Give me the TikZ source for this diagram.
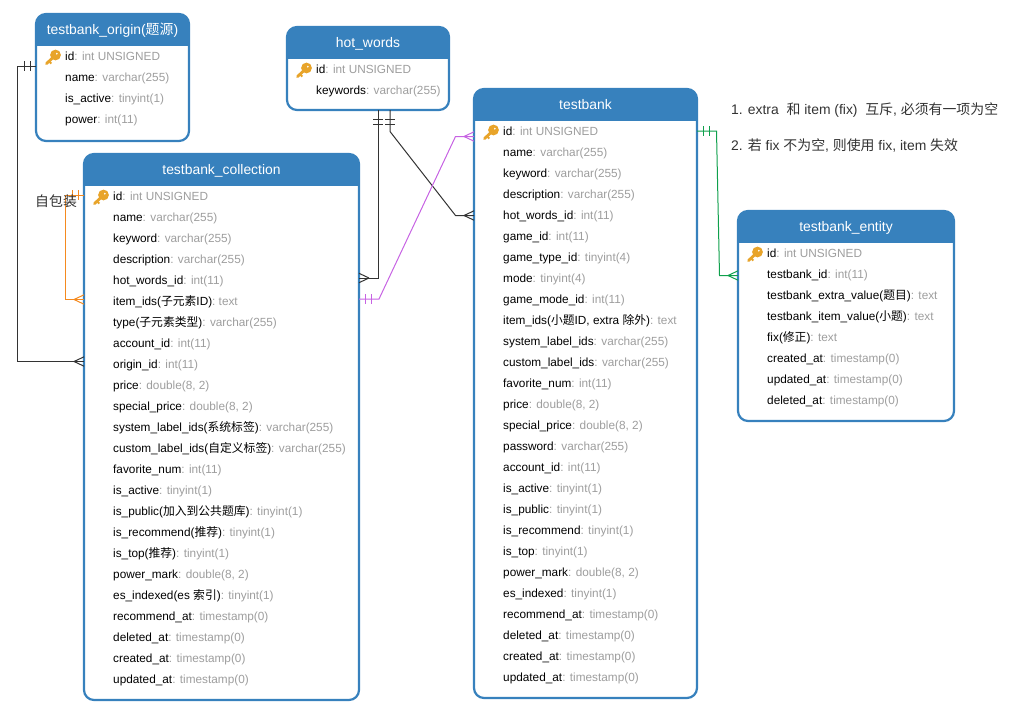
\documentclass[tikz,border=0pt]{standalone}
\usepackage{fontspec}
\setmainfont{Liberation Sans}
\newfontfamily\cjk{Noto Sans CJK SC}
\newcommand\zh[1]{{\cjk #1}}
\usetikzlibrary{calc}
\definecolor{hdrblue}{HTML}{3781BD}
\definecolor{typegray}{HTML}{9E9E9E}
\definecolor{keygold}{HTML}{E8A42A}
\definecolor{linkblack}{HTML}{333333}
\definecolor{linkorange}{HTML}{F58A1F}
\definecolor{linkpurple}{HTML}{C763E3}
\definecolor{linkgreen}{HTML}{0FA04C}
\definecolor{notegray}{HTML}{333333}
\tikzset{
  x=1pt,y=-1pt,
  ebox/.style={draw=hdrblue,fill=white,line width=2.2pt,rounded corners=10pt,outer sep=0pt,inner sep=0pt},
  etitle/.style={text=white,font=\fontsize{13.9}{15}\selectfont,inner sep=0pt,text height=10pt,text depth=3pt},
  field/.style={anchor=west,inner sep=0pt,font=\fontsize{11.8}{13}\selectfont,text height=8pt,text depth=2pt},
  note/.style={anchor=west,inner sep=0pt,text=notegray,font=\fontsize{13.9}{15}\selectfont},
  conn/.style={line width=1pt,line join=miter},
}
\newcommand\typ[1]{\textcolor{typegray}{#1}}
\newcommand\entity[7]{% name x1 y1 x2 y2 yh title
  \pgfmathsetmacro\ew{#4-#2}\pgfmathsetmacro\eh{#5-#3}
  \pgfmathsetmacro\ecx{(#2+#4)/2}\pgfmathsetmacro\ecy{(#3+#5)/2}
  \pgfmathsetmacro\ety{(#3+#6)/2+0.6}
  \node[ebox,minimum width=\ew pt,minimum height=\eh pt] (#1) at (\ecx,\ecy) {};
  \begin{scope}
    \clip[rounded corners=10pt] (#1.south west) rectangle (#1.north east);
    \fill[hdrblue] (#1.north west) rectangle (#2+\ew,#6);
  \end{scope}
  \node[etitle] (#1-title) at (\ecx,\ety) {#7};
}
\newcommand\startrows[2]{\def\rowx{#1}\def\rowy{#2}}
\newcommand\fld[3]{%
  \node[field] (#1) at (\rowx,\rowy) {#2\typ{: #3}};
  \pgfmathsetmacro\rowy{\rowy+21}\global\let\rowy\rowy
}
\newcommand\keyicon[1]{% centre of the key head
  \begin{scope}[shift={(#1)}]
    \draw[keygold,line width=2.8pt,line cap=round] (-1.5,1.5) -- (-9,8.6);
    \draw[keygold,line width=2pt] (-6.6,6.2) -- (-4.2,8.6);
    \fill[keygold,even odd rule] (0,0) circle[radius=5.4] (1.3,-1.3) circle[radius=1.2];
  \end{scope}
}
\newcommand\crowfoot[3]{% colour, apex, point on box side
  \draw[conn,#1] (#2) -- ($(#3)+(0,-4.7)$) (#2) -- ($(#3)+(0,4.7)$);
}
\newcommand\tickv[2]{\draw[conn,#1] ($(#2)+(0,-5)$) -- ($(#2)+(0,5)$);}
\newcommand\tickh[2]{\draw[conn,#1] ($(#2)+(-5,0)$) -- ($(#2)+(5,0)$);}
\begin{document}
\begin{tikzpicture}
\useasboundingbox (0,0) rectangle (1012,715);

\coordinate (b1) at (17.5,66);
\coordinate (b2) at (17.5,361.5);
\coordinate (c1a) at (74,361.5);
\coordinate (c2a) at (74,299.5);
\coordinate (b3) at (65.5,195);
\coordinate (b4) at (65.5,299.5);
\coordinate (h1) at (378,278);
\coordinate (c3a) at (369,278);
\coordinate (h2) at (390,131.5);
\coordinate (h3) at (455.5,215.5);
\coordinate (t1a) at (464,215.5);
\coordinate (p1) at (379,299);
\coordinate (p2) at (455.5,136.5);
\coordinate (t2a) at (464,136.5);
\coordinate (g1) at (716.5,131);
\coordinate (g2) at (719.5,275.5);
\coordinate (e1a) at (728,275.5);

\entity{origin}{36}{14}{189}{141}{46}{testbank\_origin(\zh{题源})}
\entity{hotwords}{287}{27}{449}{110}{59}{hot\_words}
\entity{collection}{84}{154}{359}{700}{186}{testbank\_collection}
\entity{testbank}{474}{89}{697}{698}{121}{testbank}
\entity{entity}{738}{211}{954}{421}{243}{testbank\_entity}

\draw[conn,linkblack] (origin.west |- b1) -- (b1) -- (b2) -- (collection.west |- b2);
\crowfoot{linkblack}{c1a}{collection.west |- c1a}
\tickv{linkblack}{24.7,66}\tickv{linkblack}{30.7,66}

\draw[conn,linkorange] (collection.west |- b3) -- (b3) -- (b4) -- (collection.west |- b4);
\crowfoot{linkorange}{c2a}{collection.west |- c2a}
\tickv{linkorange}{72,195}\tickv{linkorange}{78,195}

\draw[conn,linkblack] (hotwords.south -| h1) -- (h1) -- (collection.east |- h1);
\crowfoot{linkblack}{c3a}{collection.east |- c3a}
\tickh{linkblack}{378,119}\tickh{linkblack}{378,124.5}

\draw[conn,linkblack] (hotwords.south -| h2) -- (h2) -- (h3) -- (testbank.west |- h3);
\crowfoot{linkblack}{t1a}{testbank.west |- t1a}
\tickh{linkblack}{390,119}\tickh{linkblack}{390,124.5}

\draw[conn,linkpurple] (collection.east |- p1) -- (p1) -- (p2) -- (testbank.west |- p2);
\crowfoot{linkpurple}{t2a}{testbank.west |- t2a}
\tickv{linkpurple}{365.7,299}\tickv{linkpurple}{371.7,299}

\draw[conn,linkgreen] (testbank.east |- g1) -- (g1) -- (g2) -- (entity.west |- g2);
\crowfoot{linkgreen}{e1a}{entity.west |- e1a}
\tickv{linkgreen}{703.5,131}\tickv{linkgreen}{709.5,131}

\startrows{65}{57}
\fld{o1}{id}{int UNSIGNED}
\fld{o2}{name}{varchar(255)}
\fld{o3}{is\_active}{tinyint(1)}
\fld{o4}{power}{int(11)}
\keyicon{55.5,55}

\startrows{316}{70}
\fld{h-1}{id}{int UNSIGNED}
\fld{h-2}{keywords}{varchar(255)}
\keyicon{306.5,68}

\startrows{113}{197}
\fld{c1}{id}{int UNSIGNED}
\fld{c2}{name}{varchar(255)}
\fld{c3}{keyword}{varchar(255)}
\fld{c4}{description}{varchar(255)}
\fld{c5}{hot\_words\_id}{int(11)}
\fld{c6}{item\_ids(\zh{子元素}ID)}{text}
\fld{c7}{type(\zh{子元素类型})}{varchar(255)}
\fld{c8}{account\_id}{int(11)}
\fld{c9}{origin\_id}{int(11)}
\fld{c10}{price}{double(8, 2)}
\fld{c11}{special\_price}{double(8, 2)}
\fld{c12}{system\_label\_ids(\zh{系统标签})}{varchar(255)}
\fld{c13}{custom\_label\_ids(\zh{自定义标签})}{varchar(255)}
\fld{c14}{favorite\_num}{int(11)}
\fld{c15}{is\_active}{tinyint(1)}
\fld{c16}{is\_public(\zh{加入到公共题库})}{tinyint(1)}
\fld{c17}{is\_recommend(\zh{推荐})}{tinyint(1)}
\fld{c18}{is\_top(\zh{推荐})}{tinyint(1)}
\fld{c19}{power\_mark}{double(8, 2)}
\fld{c20}{es\_indexed(es \zh{索引})}{tinyint(1)}
\fld{c21}{recommend\_at}{timestamp(0)}
\fld{c22}{deleted\_at}{timestamp(0)}
\fld{c23}{created\_at}{timestamp(0)}
\fld{c24}{updated\_at}{timestamp(0)}
\keyicon{103.5,195}

\startrows{503}{132}
\fld{t1}{id}{int UNSIGNED}
\fld{t2}{name}{varchar(255)}
\fld{t3}{keyword}{varchar(255)}
\fld{t4}{description}{varchar(255)}
\fld{t5}{hot\_words\_id}{int(11)}
\fld{t6}{game\_id}{int(11)}
\fld{t7}{game\_type\_id}{tinyint(4)}
\fld{t8}{mode}{tinyint(4)}
\fld{t9}{game\_mode\_id}{int(11)}
\fld{t10}{item\_ids(\zh{小题}ID, extra \zh{除外})}{text}
\fld{t11}{system\_label\_ids}{varchar(255)}
\fld{t12}{custom\_label\_ids}{varchar(255)}
\fld{t13}{favorite\_num}{int(11)}
\fld{t14}{price}{double(8, 2)}
\fld{t15}{special\_price}{double(8, 2)}
\fld{t16}{password}{varchar(255)}
\fld{t17}{account\_id}{int(11)}
\fld{t18}{is\_active}{tinyint(1)}
\fld{t19}{is\_public}{tinyint(1)}
\fld{t20}{is\_recommend}{tinyint(1)}
\fld{t21}{is\_top}{tinyint(1)}
\fld{t22}{power\_mark}{double(8, 2)}
\fld{t23}{es\_indexed}{tinyint(1)}
\fld{t24}{recommend\_at}{timestamp(0)}
\fld{t25}{deleted\_at}{timestamp(0)}
\fld{t26}{created\_at}{timestamp(0)}
\fld{t27}{updated\_at}{timestamp(0)}
\keyicon{493.5,130}

\startrows{767}{254}
\fld{e1}{id}{int UNSIGNED}
\fld{e2}{testbank\_id}{int(11)}
\fld{e3}{testbank\_extra\_value(\zh{题目})}{text}
\fld{e4}{testbank\_item\_value(\zh{小题})}{text}
\fld{e5}{fix(\zh{修正})}{text}
\fld{e6}{created\_at}{timestamp(0)}
\fld{e7}{updated\_at}{timestamp(0)}
\fld{e8}{deleted\_at}{timestamp(0)}
\keyicon{757.5,252}

\node[note] (selfnote) at (35,201) {\zh{自包装}};
\node[note] (note1) at (731,110) {1. extra\ \ \zh{和} item (fix)\ \ \zh{互斥}, \zh{必须有一项为空}};
\node[note] (note2) at (731,146) {2. \zh{若} fix \zh{不为空}, \zh{则使用} fix, item \zh{失效}};
\end{tikzpicture}
\end{document}
